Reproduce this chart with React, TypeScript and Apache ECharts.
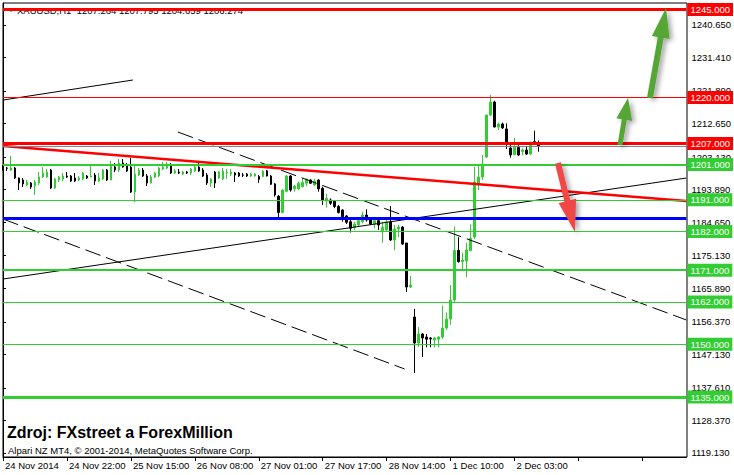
import React, { useEffect, useRef } from 'react';
import * as echarts from 'echarts';

// ---- Data ----
const dateLabels = ['24 Nov 2014', '24 Nov 22:00', '25 Nov 15:00', '26 Nov 08:00', '27 Nov 01:00', '27 Nov 17:00', '28 Nov 14:00', '1 Dec 10:00', '2 Dec 03:00'];
const LABEL_STEP = 16;
const BAR_SLOTS = 172;

const opens = [1200.58,1200.01,1199.44,1200.01,1197.17,1196.60,1195.18,1195.75,1194.90,1195.75,1197.46,1197.46,1199.44,1194.33,1196.60,1196.89,1197.74,1197.74,1197.17,1196.60,1196.89,1197.74,1197.46,1198.02,1196.32,1196.89,1199.44,1196.60,1200.30,1199.44,1201.43,1200.86,1200.30,1193.20,1198.02,1199.44,1197.74,1195.75,1197.46,1197.74,1199.73,1200.01,1200.58,1198.59,1198.87,1198.31,1198.87,1198.59,1199.16,1200.30,1199.44,1198.02,1195.75,1198.87,1197.17,1196.89,1198.59,1198.31,1198.59,1198.59,1198.02,1198.31,1197.74,1197.74,1197.60,1197.60,1199.20,1197.74,1195.50,1192.00,1187.40,1193.40,1197.74,1194.10,1194.10,1194.70,1195.70,1196.60,1195.18,1196.60,1194.25,1190.93,1190.93,1190.50,1189.10,1188.09,1186.39,1184.75,1183.10,1183.83,1184.75,1186.67,1185.50,1184.12,1185.05,1181.94,1182.41,1184.68,1179.57,1182.70,1183.26,1178.72,1166.23,1157.72,1150.34,1152.89,1152.04,1151.75,1151.19,1151.40,1152.04,1154.59,1157.15,1162.54,1176.65,1173.43,1173.61,1176.55,1180.43,1195.75,1197.46,1203.13,1215.05,1218.74,1211.65,1212.50,1211.10,1205.69,1203.80,1205.85,1204.70,1205.12,1203.98,1207.50,1207.264];
const highs = [1200.86,1200.30,1203.41,1200.30,1197.30,1197.17,1196.60,1196.04,1196.60,1198.87,1200.30,1199.73,1199.73,1197.17,1197.74,1198.59,1198.87,1198.02,1198.59,1197.74,1198.87,1198.02,1200.86,1198.59,1198.59,1199.73,1199.73,1202.00,1201.43,1202.56,1202.56,1201.43,1202.85,1200.86,1200.01,1200.01,1198.31,1198.02,1198.87,1200.30,1201.71,1201.71,1201.43,1199.73,1199.73,1199.16,1199.16,1200.01,1200.86,1201.43,1200.01,1198.59,1197.17,1199.16,1199.16,1200.01,1199.73,1199.73,1198.87,1198.87,1198.59,1198.59,1198.59,1198.59,1198.02,1199.44,1199.44,1198.02,1195.75,1192.35,1193.95,1198.02,1198.02,1195.18,1196.20,1197.10,1197.10,1196.90,1196.90,1196.80,1194.70,1192.63,1191.40,1190.93,1189.51,1188.30,1186.67,1185.25,1184.75,1185.72,1187.60,1188.30,1185.72,1185.72,1185.45,1184.75,1185.25,1189.22,1183.83,1183.83,1183.55,1178.72,1169.35,1160.02,1154.88,1153.17,1152.89,1152.04,1152.04,1152.30,1160.90,1159.00,1166.80,1183.35,1180.35,1175.96,1178.80,1184.00,1200.30,1200.58,1203.70,1215.05,1220.73,1219.10,1212.90,1212.90,1212.70,1207.20,1208.60,1206.90,1205.60,1206.10,1207.50,1210.60,1207.795];
const lows = [1199.16,1199.16,1199.16,1196.89,1193.77,1194.62,1194.90,1194.05,1192.35,1195.18,1197.17,1197.30,1194.05,1194.05,1196.04,1196.32,1197.17,1196.04,1196.04,1196.32,1196.60,1196.89,1197.46,1195.18,1196.04,1196.60,1196.32,1196.60,1198.87,1198.87,1200.10,1198.87,1192.91,1190.36,1197.74,1197.46,1194.90,1195.60,1197.17,1197.46,1199.44,1199.73,1198.31,1198.31,1198.31,1198.02,1198.31,1198.02,1198.87,1198.87,1197.46,1195.18,1194.62,1194.33,1196.89,1196.60,1196.89,1197.74,1196.04,1197.46,1197.46,1197.46,1197.46,1197.60,1195.80,1197.40,1197.60,1195.18,1191.90,1185.25,1187.20,1193.10,1193.30,1193.30,1193.77,1194.50,1194.90,1195.50,1194.90,1193.30,1189.51,1188.80,1189.51,1188.60,1187.10,1184.80,1184.12,1181.70,1182.41,1183.55,1184.30,1184.80,1183.83,1182.90,1182.41,1178.80,1181.94,1179.30,1176.74,1180.43,1178.16,1164.81,1165.95,1141.82,1149.20,1146.36,1149.10,1149.10,1149.10,1149.10,1151.50,1154.02,1155.50,1162.00,1173.15,1171.26,1169.00,1176.40,1179.86,1193.77,1196.60,1202.85,1214.76,1211.55,1210.80,1211.10,1205.40,1202.95,1203.70,1203.41,1203.70,1203.70,1203.70,1206.90,1204.659];
const closes = [1199.44,1199.95,1200.01,1197.17,1195.75,1195.47,1196.04,1194.62,1196.04,1197.46,1198.59,1198.87,1194.33,1196.89,1197.46,1197.74,1197.46,1196.32,1196.32,1197.17,1198.59,1197.17,1197.74,1196.32,1197.17,1199.44,1196.60,1200.86,1199.44,1201.43,1200.30,1199.16,1193.20,1198.31,1199.44,1197.74,1195.75,1197.46,1198.59,1200.01,1200.30,1201.15,1198.59,1199.16,1198.59,1198.87,1198.59,1199.73,1200.30,1199.16,1197.74,1195.75,1196.89,1195.75,1198.87,1199.16,1198.87,1198.87,1198.02,1197.74,1197.96,1197.74,1198.31,1198.31,1196.80,1199.16,1197.74,1195.40,1192.35,1187.40,1193.77,1197.74,1193.77,1194.90,1195.70,1195.90,1196.80,1195.70,1196.32,1194.10,1190.93,1191.40,1190.00,1189.10,1187.40,1186.20,1184.60,1182.90,1184.12,1185.05,1186.67,1185.25,1184.12,1185.05,1183.83,1183.17,1184.75,1179.57,1182.70,1183.26,1178.44,1166.23,1166.80,1150.34,1152.89,1151.75,1151.40,1151.50,1151.75,1152.04,1154.59,1157.15,1162.54,1176.65,1173.43,1173.90,1176.74,1180.00,1196.04,1197.46,1201.15,1215.05,1218.74,1211.65,1212.50,1211.40,1206.82,1203.70,1205.85,1203.70,1205.12,1203.98,1206.54,1207.05,1206.274];

const yTicks = [1240.65, 1231.41, 1221.89, 1212.65, 1203.13, 1193.89, 1184.65, 1175.13, 1165.89, 1156.37, 1147.13, 1137.61, 1128.37, 1119.13];
const Y_MIN = 1117.98;
const Y_MAX = 1246.85;

// horizontal levels
const resistanceLevels = [1245, 1220, 1207];
const supportLevels = [1201, 1191, 1182, 1171, 1162, 1150, 1135];
const blueLevel = 1185.82;
const bidPrice = 1206.274;
const headerOHLC = [1207.264, 1207.795, 1204.659, 1206.274];

// trend lines: [bar index, price]
const trendBlackShort = [[0, 1219.31], [32.5, 1224.99]];
const trendRed = [[0, 1206.25], [171, 1190.64]];
const trendDashUpper = [[43.75, 1210.23], [171, 1156.87]];
const trendDashLower = [[0, 1185.53], [100.5, 1142.96]];
const trendBlackRise = [[0, 1168.5], [171, 1197.17]];

// ---- Styles ----
const FONT = 'Liberation Sans';
const RED = '#ff0000';
const GREEN = '#32cd32';
const resistanceWidths: Record<number, number> = { 1245: 3, 1220: 1, 1207: 3 };
const supportWidths: Record<number, number> = { 1201: 2, 1191: 1, 1182: 1, 1171: 2, 1162: 1, 1150: 1, 1135: 3 };

function arrowPoints(tail: number[], tip: number[], shaftW: number, headW: number, headL: number) {
  const dx = tip[0] - tail[0];
  const dy = tip[1] - tail[1];
  const len = Math.hypot(dx, dy);
  const ux = dx / len, uy = dy / len;
  const nx = -uy, ny = ux;
  const bx = tip[0] - ux * headL, by = tip[1] - uy * headL;
  return [
    [tail[0] + nx * shaftW / 2, tail[1] + ny * shaftW / 2],
    [bx + nx * shaftW / 2, by + ny * shaftW / 2],
    [bx + nx * headW / 2, by + ny * headW / 2],
    [tip[0], tip[1]],
    [bx - nx * headW / 2, by - ny * headW / 2],
    [bx - nx * shaftW / 2, by - ny * shaftW / 2],
    [tail[0] - nx * shaftW / 2, tail[1] - ny * shaftW / 2],
  ];
}

function levelLine(price: number, color: string, width: number, withLabel: boolean) {
  return {
    yAxis: price,
    lineStyle: { color, width, type: 'solid' },
    label: withLabel
      ? {
          show: true,
          position: 'end',
          formatter: price.toFixed(3),
          color: '#ffffff',
          backgroundColor: color,
          padding: [2, 3, 1, 3],
          distance: 1,
          fontSize: 9.5,
          fontFamily: FONT,
        }
      : { show: false },
  };
}

export default function App() {
  const ref = useRef<HTMLDivElement>(null);

  useEffect(() => {
    document.body.style.margin = '0';
    if (!ref.current) return;
    const chart = echarts.init(ref.current, undefined, { renderer: 'svg' });

    const categories = Array.from({ length: BAR_SLOTS }, (_, i) => String(i));
    const candleData = opens.map((o, i) => [o, closes[i], lows[i], highs[i]]);

    const levelData: any[] = [
      levelLine(bidPrice, '#778899', 1, false),
      ...resistanceLevels.map((p) => levelLine(p, RED, resistanceWidths[p], true)),
      ...supportLevels.map((p) => levelLine(p, GREEN, supportWidths[p], true)),
      levelLine(blueLevel, '#0000ff', 3, false),
    ];

    const trend = (data: number[][], color: string, width: number, type: any) => ({
      type: 'line',
      xAxisIndex: 1,
      data,
      symbol: 'none',
      silent: true,
      z: 4,
      lineStyle: { color, width, type },
    });

    const greenArrowStyle = { fill: '#56a636', shadowBlur: 5, shadowColor: 'rgba(0,0,0,0.35)', shadowOffsetX: 3, shadowOffsetY: 2 };
    const redArrowStyle = { fill: '#f04646', shadowBlur: 5, shadowColor: 'rgba(0,0,0,0.35)', shadowOffsetX: 3, shadowOffsetY: 2 };

    chart.setOption({
      animation: false,
      backgroundColor: '#ffffff',
      grid: { left: 3, top: 3, width: 684, height: 454, containLabel: false },
      xAxis: [
        {
          type: 'category',
          data: categories,
          boundaryGap: false,
          axisLine: { show: true, lineStyle: { color: '#000', width: 1 } },
          axisTick: { show: true, interval: LABEL_STEP - 1, length: 4, lineStyle: { color: '#000' } },
          axisLabel: {
            interval: LABEL_STEP - 1,
            align: 'left',
            margin: 3,
            padding: [0, 0, 0, 2],
            fontSize: 9.5,
            fontFamily: FONT,
            color: '#000',
            formatter: (_v: string, idx: number) => dateLabels[idx / LABEL_STEP] ?? '',
          },
          splitLine: { show: false },
        },
        { type: 'value', min: 0, max: BAR_SLOTS - 1, show: false },
      ],
      yAxis: {
        type: 'value',
        position: 'right',
        min: Y_MIN,
        max: Y_MAX,
        axisLine: { show: true, lineStyle: { color: '#000', width: 1 } },
        axisTick: { show: true, length: 3, customValues: yTicks, lineStyle: { color: '#000' } },
        axisLabel: {
          customValues: yTicks,
          formatter: (v: number) => v.toFixed(3),
          margin: 5,
          fontSize: 9.5,
          fontFamily: FONT,
          color: '#000',
        },
        splitLine: { show: false },
      },
      series: [
        {
          type: 'candlestick',
          data: candleData,
          barWidth: 2,
          z: 2,
          itemStyle: {
            color: GREEN,
            color0: '#000000',
            borderColor: GREEN,
            borderColor0: '#000000',
            borderWidth: 1,
          },
        },
        trend(trendBlackRise, '#000', 1, 'solid'),
        trend(trendDashUpper, '#000', 1, [16, 6]),
        trend(trendDashLower, '#000', 1, [16, 6]),
        trend(trendBlackShort, '#000', 1, 'solid'),
        trend(trendRed, RED, 2.5, 'solid'),
        {
          type: 'line',
          data: [],
          z: 5,
          markLine: {
            silent: true,
            symbol: ['none', 'none'],
            animation: false,
            data: levelData,
          },
        },
      ],
      graphic: [
        { type: 'rect', z: 1, shape: { x: 3, y: 3, width: 684, height: 454 }, style: { fill: 'none', stroke: '#000', lineWidth: 1 } },
        { type: 'polygon', z: 1, shape: { points: [[8, 8], [14, 8], [11, 12]] }, style: { fill: '#000' } },
        {
          type: 'text',
          z: 1,
          x: 17,
          y: 10,
          style: {
            text: 'XAUUSD,H1  ' + headerOHLC.map((v) => v.toFixed(3)).join(' '),
            fontSize: 9.5,
            fontFamily: FONT,
            fill: '#000',
            verticalAlign: 'middle',
          },
        },
        {
          type: 'text',
          z: 10,
          x: 7,
          y: 432,
          style: { text: 'Zdroj: FXstreet a ForexMillion', fontSize: 16, fontWeight: 'bold', fontFamily: FONT, fill: '#000', verticalAlign: 'middle' },
        },
        {
          type: 'text',
          z: 10,
          x: 8,
          y: 450,
          style: { text: 'Alpari NZ MT4, © 2001-2014, MetaQuotes Software Corp.', fontSize: 9.5, fontFamily: FONT, fill: '#000', verticalAlign: 'middle' },
        },
        { type: 'polygon', z: 50, shape: { points: arrowPoints([620, 145], [628, 98], 5, 16, 22) }, style: greenArrowStyle },
        { type: 'polygon', z: 50, shape: { points: arrowPoints([650, 98], [666, 8], 6, 18, 30) }, style: greenArrowStyle },
        { type: 'polygon', z: 50, shape: { points: arrowPoints([558, 163], [575, 232], 6, 18, 32) }, style: redArrowStyle },
      ],
    });

    return () => chart.dispose();
  }, []);

  return <div ref={ref} style={{ width: 734, height: 475 }} />;
}
